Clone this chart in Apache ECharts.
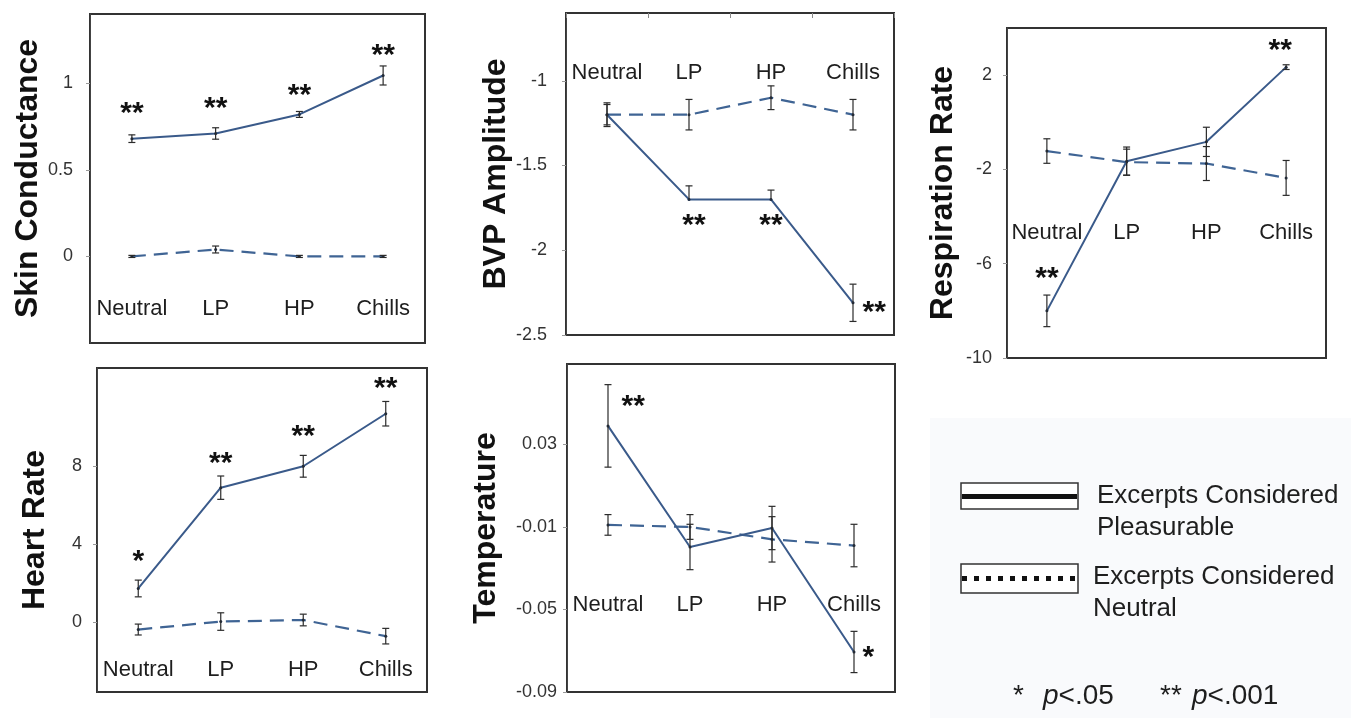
<!DOCTYPE html>
<html>
<head>
<meta charset="utf-8">
<script src="https://cdn.jsdelivr.net/npm/echarts@6/dist/echarts.min.js"></script>
<style>
html,body{margin:0;padding:0;background:#fff;}
#chart{width:1351px;height:718px;}
</style>
</head>
<body>
<div id="chart"></div>
<script>
// ---------------- DATA ----------------
const categories = ['Neutral', 'LP', 'HP', 'Chills'];

const skinPleasurable = [0.68, 0.71, 0.82, 1.045];
const skinPleasurableErr = [0.022, 0.033, 0.017, 0.055];
const skinNeutral = [0.0, 0.04, 0.0, 0.0];
const skinNeutralErr = [0.006, 0.02, 0.006, 0.006];
const skinSig = ['**', '**', '**', '**'];
const skinTicks = [0, 0.5, 1];

const bvpPleasurable = [-1.2, -1.7, -1.7, -2.31];
const bvpPleasurableErrUp = [0.07, 0.08, 0.055, 0.11];
const bvpPleasurableErrDown = [0.07, 0, 0, 0.11];
const bvpNeutral = [-1.2, -1.2, -1.1, -1.2];
const bvpNeutralErr = [0.06, 0.09, 0.07, 0.09];
const bvpSig = ['', '**', '**', '**'];
const bvpTicks = [-2.5, -2, -1.5, -1];

const respPleasurable = [-8.0, -1.65, -0.83, 2.34];
const respPleasurableErr = [0.67, 0.6, 0.62, 0.1];
const respNeutral = [-1.22, -1.69, -1.75, -2.36];
const respNeutralErr = [0.52, 0.55, 0.72, 0.74];
const respSig = ['**', '', '', '**'];
const respTicks = [-10, -6, -2, 2];

const hrPleasurable = [1.72, 6.9, 8.0, 10.7];
const hrPleasurableErr = [0.43, 0.6, 0.56, 0.63];
const hrNeutral = [-0.39, 0.02, 0.1, -0.73];
const hrNeutralErr = [0.28, 0.45, 0.3, 0.4];
const hrSig = ['*', '**', '**', '**'];
const hrTicks = [0, 4, 8];

const tempPleasurable = [0.039, -0.0197, -0.0105, -0.0706];
const tempPleasurableErr = [0.02, 0.011, 0.0105, 0.01];
const tempNeutral = [-0.009, -0.01, -0.016, -0.019];
const tempNeutralErr = [0.005, 0.006, 0.011, 0.0103];
const tempSig = ['**', '', '', '*'];
const tempTicks = [-0.09, -0.05, -0.01, 0.03];

const legendLabels = ['Excerpts Considered\nPleasurable', 'Excerpts Considered\nNeutral'];

// ---------------- STYLE / LAYOUT ----------------
const FONT = '"Liberation Sans", Arial, Helvetica, sans-serif';
const SOLID_COLOR = '#3a5a8a';
const DASH_COLOR = '#3f6494';
const ERR_COLOR = '#2b2b2b';

const panels = [
  { name: 'Skin Conductance', grid: [90, 14, 335, 329], min: -0.5, max: 1.4, ticks: skinTicks,
    pl: skinPleasurable, plUp: skinPleasurableErr, plDown: skinPleasurableErr,
    ne: skinNeutral, neUp: skinNeutralErr, neDown: skinNeutralErr, sig: skinSig,
    labelMargin: 17, nameGap: 45, xPos: 'bottom', xMargin: 23, xTicks: false,
    sigStyle: [['top', 8, 0, 0], ['top', 8, 0, 0], ['top', 2, 0, 0], ['top', 3, 0, 0]] },
  { name: 'BVP Amplitude', grid: [566, 13, 328, 322], min: -2.5, max: -0.6, ticks: bvpTicks,
    pl: bvpPleasurable, plUp: bvpPleasurableErrUp, plDown: bvpPleasurableErrDown,
    ne: bvpNeutral, neUp: bvpNeutralErr, neDown: bvpNeutralErr, sig: bvpSig,
    labelMargin: 19, nameGap: 54, xPos: 'top', xMargin: 49, xTicks: true,
    sigStyle: [['top', 0, 0, 0], ['bottom', 10, 5, 0], ['bottom', 10, 0, 0], ['right', 8, 0, 10]] },
  { name: 'Respiration Rate', grid: [1007, 28, 319, 330], min: -10, max: 4, ticks: respTicks,
    pl: respPleasurable, plUp: respPleasurableErr, plDown: respPleasurableErr,
    ne: respNeutral, neUp: respNeutralErr, neDown: respNeutralErr, sig: respSig,
    labelMargin: 15, nameGap: 48, xPos: 'bottom', xMargin: 114, xTicks: false,
    sigStyle: [['top', 16, 0, 0], ['top', 0, 0, 0], ['top', 0, 0, 0], ['top', 0, -6, 0]] },
  { name: 'Heart Rate', grid: [97, 368, 330, 324], min: -3.6, max: 13.05, ticks: hrTicks,
    pl: hrPleasurable, plUp: hrPleasurableErr, plDown: hrPleasurableErr,
    ne: hrNeutral, neUp: hrNeutralErr, neDown: hrNeutralErr, sig: hrSig,
    labelMargin: 15, nameGap: 46, xPos: 'bottom', xMargin: 11, xTicks: false,
    sigStyle: [['top', 10, 0, 0], ['top', 7, 0, 0], ['top', 13, 0, 0], ['top', 8, 0, 0]] },
  { name: 'Temperature', grid: [567, 364, 328, 328], min: -0.09, max: 0.069, ticks: tempTicks,
    pl: tempPleasurable, plUp: tempPleasurableErr, plDown: tempPleasurableErr,
    ne: tempNeutral, neUp: tempNeutralErr, neDown: tempNeutralErr, sig: tempSig,
    labelMargin: 10, nameGap: 65, xPos: 'bottom', xMargin: 76, xTicks: false,
    sigStyle: [['right', 12, 0, -19], ['top', 0, 0, 0], ['top', 0, 0, 0], ['right', 7, 0, 6]] }
];

function errData(vals, up, down) {
  return vals.map((v, i) => [i, v, v - down[i], v + up[i]]);
}

function renderErr(params, api) {
  const x = api.value(0);
  const lo = api.value(2), hi = api.value(3), v = api.value(1);
  const pLo = api.coord([x, lo]);
  const pHi = api.coord([x, hi]);
  const pV = api.coord([x, v]);
  const cap = 3.5;
  const st = { stroke: ERR_COLOR, lineWidth: 1.2 };
  const children = [
    { type: 'line', shape: { x1: pLo[0], y1: pLo[1], x2: pHi[0], y2: pHi[1] }, style: st },
    { type: 'line', shape: { x1: pHi[0] - cap, y1: pHi[1], x2: pHi[0] + cap, y2: pHi[1] }, style: st }
  ];
  if (Math.abs(pLo[1] - pV[1]) > 0.5) {
    children.push({ type: 'line', shape: { x1: pLo[0] - cap, y1: pLo[1], x2: pLo[0] + cap, y2: pLo[1] }, style: st });
  }
  return { type: 'group', children: children };
}

const grids = [], xAxes = [], yAxes = [], series = [];
panels.forEach((p, k) => {
  grids.push({ left: p.grid[0], top: p.grid[1], width: p.grid[2], height: p.grid[3],
    show: true, borderColor: '#333', borderWidth: 2, backgroundColor: 'transparent' });
  xAxes.push({
    gridIndex: k, type: 'category', data: categories, position: p.xPos, boundaryGap: true,
    axisLine: { show: false, onZero: false },
    axisTick: { show: p.xTicks, inside: true, length: 5, interval: 0, lineStyle: { color: '#888' } },
    axisLabel: { inside: true, interval: 0, hideOverlap: false, margin: p.xMargin, fontSize: 22,
      color: '#1e1e1e', fontFamily: FONT },
    splitLine: { show: false }
  });
  yAxes.push({
    gridIndex: k, type: 'value', min: p.min, max: p.max,
    name: p.name, nameLocation: 'middle', nameGap: p.nameGap,
    nameTextStyle: { fontSize: 32, fontWeight: 'bold', color: '#111', fontFamily: FONT },
    axisLine: { show: true, lineStyle: { color: '#444', width: 1 } },
    axisTick: { show: true, length: 4, customValues: p.ticks, lineStyle: { color: '#999' } },
    axisLabel: { customValues: p.ticks, margin: p.labelMargin, fontSize: 18, color: '#333', fontFamily: FONT },
    splitLine: { show: false }
  });
  series.push({
    type: 'line', name: 'Excerpts Considered Neutral', xAxisIndex: k, yAxisIndex: k,
    data: p.ne, symbol: 'circle', symbolSize: 3, itemStyle: { color: '#1c2c44' },
    lineStyle: { color: DASH_COLOR, width: 2.2, type: [14, 8] }, z: 3, silent: true, animation: false
  });
  series.push({
    type: 'line', name: 'Excerpts Considered Pleasurable', xAxisIndex: k, yAxisIndex: k,
    data: p.pl.map((v, i) => {
      const s = p.sigStyle[i];
      return { value: v, label: { show: p.sig[i] !== '', formatter: p.sig[i], position: s[0], distance: s[1], offset: [s[2], s[3]] } };
    }),
    symbol: 'circle', symbolSize: 3, itemStyle: { color: '#1c2c44' },
    label: { fontSize: 30, fontWeight: 'bold', color: '#111', fontFamily: FONT },
    lineStyle: { color: SOLID_COLOR, width: 2 }, z: 4, silent: true, animation: false
  });
  series.push({
    type: 'custom', xAxisIndex: k, yAxisIndex: k, renderItem: renderErr,
    data: errData(p.ne, p.neUp, p.neDown), encode: { x: 0, y: 1 }, z: 5, silent: true, animation: false
  });
  series.push({
    type: 'custom', xAxisIndex: k, yAxisIndex: k, renderItem: renderErr,
    data: errData(p.pl, p.plUp, p.plDown), encode: { x: 0, y: 1 }, z: 5, silent: true, animation: false
  });
});

const legendText = { fontSize: 26, fill: '#1e1e1e', fontFamily: FONT, lineHeight: 32 };
const graphic = [
  { type: 'rect', shape: { x: 930, y: 418, width: 421, height: 300 }, style: { fill: '#f9fafc' }, z: 0 },
  { type: 'rect', shape: { x: 961, y: 483, width: 117, height: 26 }, style: { fill: '#fff', stroke: '#333', lineWidth: 1.5 } },
  { type: 'line', shape: { x1: 962, y1: 496.5, x2: 1077, y2: 496.5 }, style: { stroke: '#111', lineWidth: 5 } },
  { type: 'rect', shape: { x: 961, y: 564, width: 117, height: 29 }, style: { fill: '#fff', stroke: '#333', lineWidth: 1.5 } },
  { type: 'line', shape: { x1: 962, y1: 578.5, x2: 1077, y2: 578.5 }, style: { stroke: '#111', lineWidth: 5, lineDash: [5, 7] } },
  { type: 'text', left: 1097, top: 480, style: Object.assign({ text: legendLabels[0] }, legendText) },
  { type: 'text', left: 1093, top: 561, style: Object.assign({ text: legendLabels[1] }, legendText) },
  { type: 'text', left: 1013, top: 682, style: { text: '*', fontSize: 28, fill: '#1e1e1e', fontFamily: FONT } },
  { type: 'text', left: 1043, top: 682, style: { text: '{i|p}<.05', fontSize: 28, fill: '#1e1e1e', fontFamily: FONT,
      rich: { i: { fontStyle: 'italic', fontSize: 28, fontFamily: FONT, fill: '#1e1e1e' } } } },
  { type: 'text', left: 1160, top: 682, style: { text: '**', fontSize: 28, fill: '#1e1e1e', fontFamily: FONT } },
  { type: 'text', left: 1192, top: 682, style: { text: '{i|p}<.001', fontSize: 28, fill: '#1e1e1e', fontFamily: FONT,
      rich: { i: { fontStyle: 'italic', fontSize: 28, fontFamily: FONT, fill: '#1e1e1e' } } } }
];

const chart = echarts.init(document.getElementById('chart'), null, { renderer: 'canvas' });
chart.setOption({
  backgroundColor: '#ffffff',
  animation: false,
  textStyle: { fontFamily: FONT },
  grid: grids, xAxis: xAxes, yAxis: yAxes, series: series, graphic: graphic
});
</script>
</body>
</html>
